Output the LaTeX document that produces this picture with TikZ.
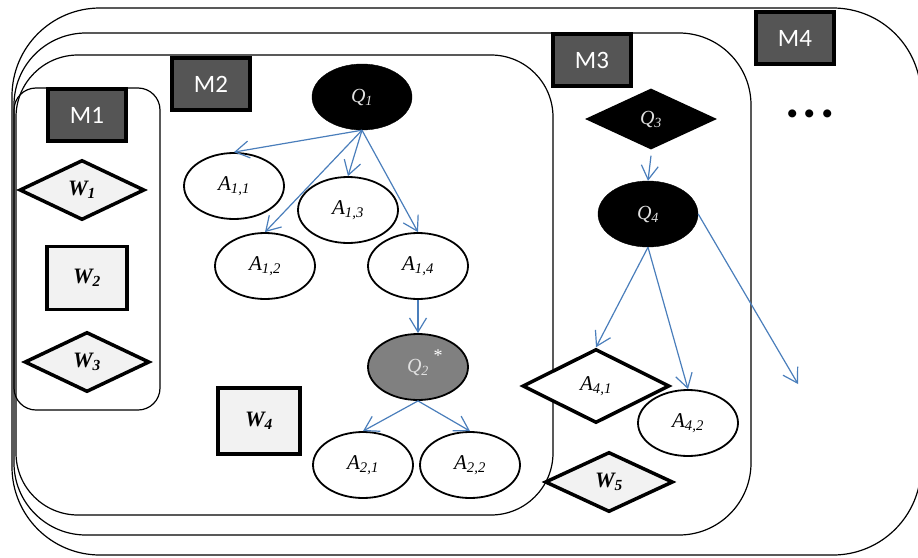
\documentclass[tikz,border=0pt]{standalone}
\usepackage{fontspec}
\setmainfont{Liberation Serif}
\newfontfamily\calib{Carlito}
\usetikzlibrary{shapes.geometric,arrows.meta}
\definecolor{arrowblue}{RGB}{74,126,187}
\definecolor{mgray}{RGB}{85,85,85}
\definecolor{wfill}{RGB}{242,242,242}
\definecolor{qtext}{RGB}{225,225,225}
\definecolor{qtwo}{RGB}{128,128,128}
\tikzset{
  container/.style={draw=black, line width=1.2pt},
  mbox/.style={draw=black, line width=3.5pt, fill=mgray, text=white, minimum width=78pt, minimum height=52pt, inner sep=0pt, font=\calib\fontsize{25}{27}\selectfont},
  anode/.style={ellipse, draw=black, line width=1.8pt, fill=white, minimum width=100pt, minimum height=66pt, inner sep=0pt, font=\fontsize{21}{23}\selectfont\itshape},
  qnode/.style={ellipse, draw=black, fill=black, text=qtext, minimum width=100pt, minimum height=66pt, inner sep=0pt, font=\fontsize{20}{22}\selectfont\itshape},
  wdiam/.style={diamond, aspect=2.1, draw=black, line width=3.5pt, fill=wfill, minimum width=125pt, minimum height=60pt, inner sep=0pt, font=\fontsize{22}{24}\selectfont\bfseries\itshape},
  wrect/.style={rectangle, draw=black, line width=3.5pt, fill=wfill, minimum width=80pt, minimum height=63pt, inner sep=0pt, font=\fontsize{22}{24}\selectfont\bfseries\itshape},
  arr/.style={draw=arrowblue, line width=1.2pt, -{Straight Barb[length=14pt,width=17pt]}},
}
\begin{document}
\begin{tikzpicture}[x=1pt,y=-1pt]
\useasboundingbox (0,0) rectangle (918,557);
% containers
\draw[container, rounded corners=88pt] (12,8) rectangle (921,555);
\draw[container, rounded corners=72pt] (14,33) rectangle (751,535);
\draw[container, rounded corners=62pt] (16,55) rectangle (553,515);
\draw[container, rounded corners=22pt] (14,88) rectangle (160,410);
% module labels
\node[mbox] (m1) at (87,115) {M1};
\node[mbox] (m2) at (211,84) {M2};
\node[mbox] (m3) at (592,60) {M3};
\node[mbox] (m4) at (795,38) {M4};
% M1 content
\node[wdiam] (w1) at (82,190) {W\textsubscript{1}};
\node[wrect] (w2) at (87,278) {W\textsubscript{2}};
\node[wdiam] (w3) at (87,362) {W\textsubscript{3}};
% M2 content
\node[qnode] (q1) at (362,97) {Q\textsubscript{1}};
\node[anode] (a11) at (234,186) {A\textsubscript{1,1}};
\node[anode] (a13) at (348,210) {A\textsubscript{1,3}};
\node[anode] (a12) at (265,266) {A\textsubscript{1,2}};
\node[anode] (a14) at (418,266) {A\textsubscript{1,4}};
\node[qnode, fill=qtwo, draw=black, line width=1.8pt, text=qtext] (q2) at (418,367) {Q\textsubscript{2}};
\node[text=white, font=\fontsize{18}{20}\selectfont, inner sep=0pt] (star) at (438,356) {*};
\node[anode] (a21) at (363,465) {A\textsubscript{2,1}};
\node[anode] (a22) at (470,465) {A\textsubscript{2,2}};
\node[wrect, minimum width=82pt, minimum height=66pt] (w4) at (259,421) {W\textsubscript{4}};
% M3 content
\node[diamond, aspect=2.15, fill=black, text=qtext, minimum width=132pt, minimum height=61pt, inner sep=0pt, font=\fontsize{20}{22}\selectfont\itshape] (q3) at (651,119) {Q\textsubscript{3}};
\node[qnode] (q4) at (648,214) {Q\textsubscript{4}};
\node[diamond, aspect=2, draw=black, line width=3.5pt, fill=white, minimum width=147pt, minimum height=74pt, inner sep=0pt, font=\fontsize{21}{23}\selectfont\itshape] (a41) at (596,386) {A\textsubscript{4,1}};
\node[anode] (a42) at (688,423) {A\textsubscript{4,2}};
\node[wdiam, minimum width=128pt] (w5) at (609,482) {W\textsubscript{5}};
% M4 content
\node[font=\calib\bfseries\fontsize{54}{56}\selectfont, inner sep=0pt] (dots) at (810,114) {.\kern3pt.\kern3pt.};
\coordinate (free) at (798,384);
% arrows
\draw[arr] (q1.south) -- (a11.north);
\draw[arr] (q1.south) -- (a12.north);
\draw[arr] (q1.south) -- (a13.north);
\draw[arr] (q1.south) -- (a14.north);
\draw[arr] (a14.south) -- (q2.north);
\draw[arr] (q2.south) -- (a21.north);
\draw[arr] (q2.south) -- (a22.north);
\draw[arr] ([yshift=-6pt]q3.south) -- (q4.north);
\draw[arr] (q4.south) -- (a41.north);
\draw[arr] (q4.south) -- (a42.north);
\draw[arr] (q4.east) -- (free);
\end{tikzpicture}
\end{document}
